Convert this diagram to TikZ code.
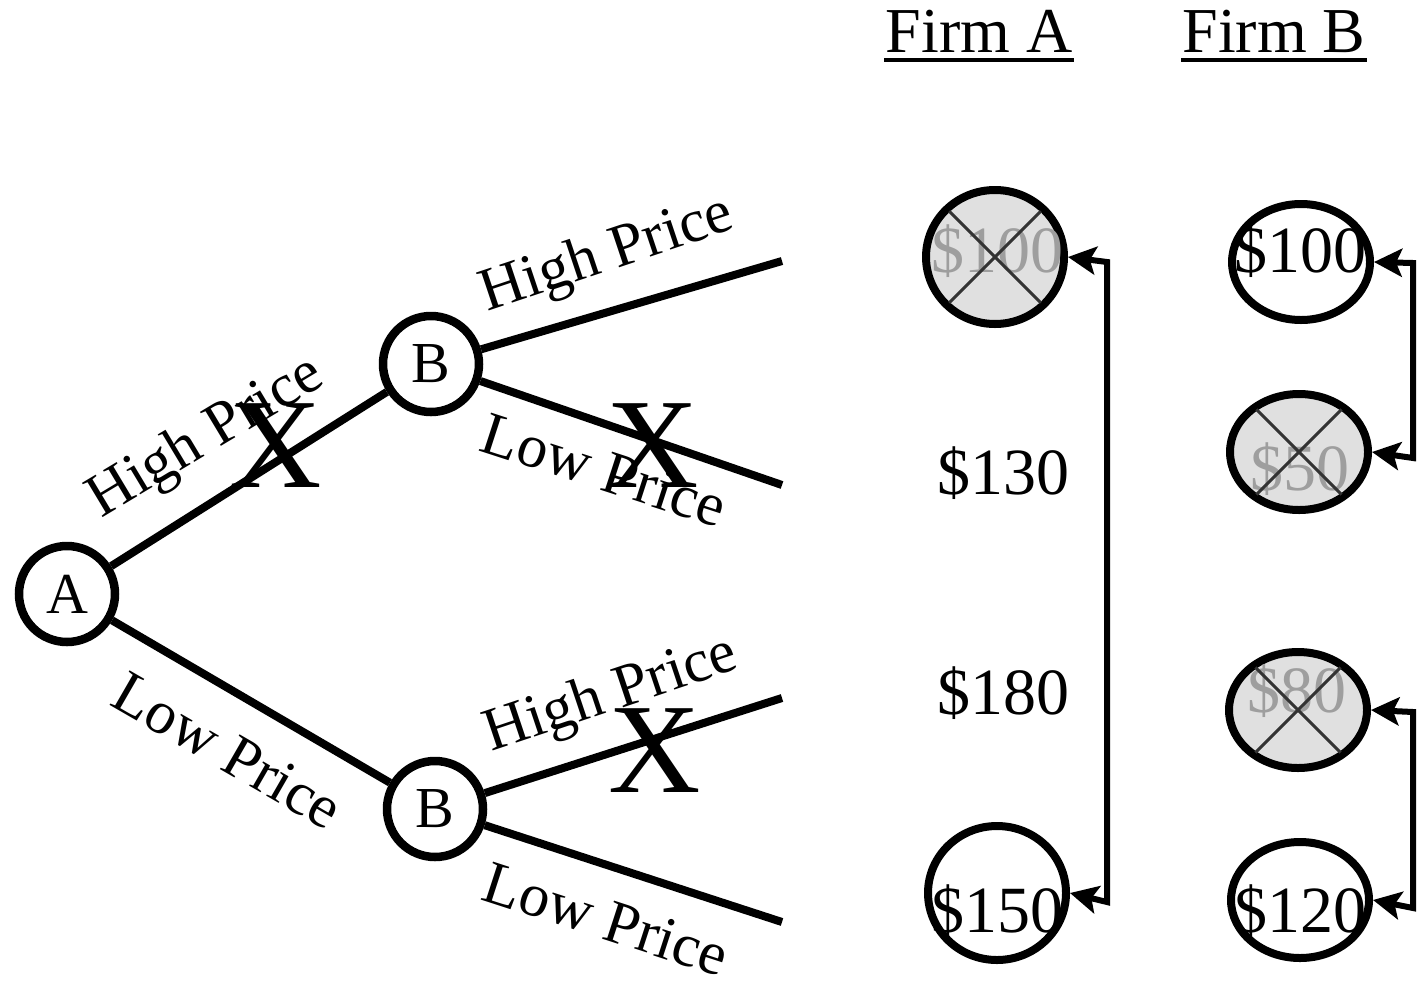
\documentclass[tikz,border=0pt]{standalone}
\usepackage{fontspec}
\setmainfont{Liberation Serif}
\usetikzlibrary{shapes.geometric,arrows.meta,calc}
\begin{document}
\begin{tikzpicture}[x=1pt,y=-1pt,
  decision/.style={circle,draw,line width=8.5pt,minimum size=96pt,inner sep=0pt,font=\fontsize{58}{60}\selectfont},
  branch/.style={line width=8pt},
  lbl/.style={font=\fontsize{61}{63}\selectfont,inner sep=0pt,anchor=base},
  bigx/.style={font=\fontsize{128}{130}\selectfont,inner sep=0pt},
  payA/.style={ellipse,draw,line width=8pt,inner sep=0pt,minimum width=138pt,minimum height=134pt},
  payB/.style={ellipse,draw,line width=8pt,inner sep=0pt,minimum width=138pt,minimum height=116pt},
  struck/.style={fill=black!12},
  val/.style={font=\fontsize{66}{68}\selectfont,inner sep=0pt,anchor=base},
  gval/.style={val,text=black!38},
  xline/.style={line width=3pt,draw=black!80},
  arr/.style={line width=6pt,{Stealth[length=28pt,width=28pt,inset=6pt]}-{Stealth[length=28pt,width=28pt,inset=6pt]}},
  head/.style={font=\fontsize{64}{66}\selectfont,inner sep=0pt,anchor=base}
]
\useasboundingbox (0,0) rectangle (1418,983);

% headers
\node[head] (hA) at (979,52) {Firm A};
\node[head] (hB) at (1274,52) {Firm B};
\draw[line width=4pt] ([yshift=-8pt,xshift=-1pt]hA.base west) -- ([yshift=-8pt,xshift=1pt]hA.base east);
\draw[line width=4pt] ([yshift=-8pt,xshift=-1pt]hB.base west) -- ([yshift=-8pt,xshift=1pt]hB.base east);

% tree
\node[decision] (A) at (67,594) {A};
\node[decision] (B1) at (431,364) {B};
\node[decision] (B2) at (435,809) {B};
\coordinate (e1) at (782,261);
\coordinate (e2) at (782,485);
\coordinate (e3) at (782,698);
\coordinate (e4) at (782,922);
\draw[branch] (A) -- (B1);
\draw[branch] (A) -- (B2);
\draw[branch] (B1) -- (e1);
\draw[branch] (B1) -- (e2);
\draw[branch] (B2) -- (e3);
\draw[branch] (B2) -- (e4);

% branch labels
\node[lbl,rotate=31] (l1) at (214,451) {High Price};
\node[lbl,rotate=-30] (l2) at (218,768) {Low Price};
\node[lbl,rotate=18.5] (l3) at (612,270) {High Price};
\node[lbl,rotate=-18] (l4) at (598,489) {Low Price};
\node[lbl,rotate=18.5] (l5) at (616,710) {High Price};
\node[lbl,rotate=-18] (l6) at (600,938) {Low Price};

% crosses
\node[bigx] (x1) at (276,446) {X};
\node[bigx] (x2) at (653,446) {X};
\node[bigx] (x3) at (655,751) {X};

% Firm A payoffs
\node[payA,struck] (a1) at (995,257) {};
\node[gval] (ta1) at (997,272) {\$100};
\draw[xline] ($(a1.center)!0.9!(a1.135)$) -- ($(a1.center)!0.9!(a1.-45)$);
\draw[xline] ($(a1.center)!0.9!(a1.45)$) -- ($(a1.center)!0.9!(a1.-135)$);
\node[val] (ta2) at (1003,494) {\$130};
\node[val] (ta3) at (1003,714) {\$180};
\node[payA] (a4) at (997,893) {};
\node[val] (ta4) at (997,932) {\$150};
\coordinate (ca1) at (1107,262);
\coordinate (ca2) at (1107,902);
\draw[arr] (a1.east) -- (ca1) -- (ca2) -- (a4.east);

% Firm B payoffs
\node[payB] (b1) at (1301,262) {};
\node[val] (tb1) at (1300,272) {\$100};
\node[payB,struck] (b2) at (1299,452) {};
\node[gval] (tb2) at (1300,490) {\$50};
\draw[xline] ($(b2.center)!0.9!(b2.135)$) -- ($(b2.center)!0.9!(b2.-45)$);
\draw[xline] ($(b2.center)!0.9!(b2.45)$) -- ($(b2.center)!0.9!(b2.-135)$);
\node[payB,struck] (b3) at (1298,710) {};
\node[gval] (tb3) at (1297,712) {\$80};
\draw[xline] ($(b3.center)!0.9!(b3.135)$) -- ($(b3.center)!0.9!(b3.-45)$);
\draw[xline] ($(b3.center)!0.9!(b3.45)$) -- ($(b3.center)!0.9!(b3.-135)$);
\node[payB] (b4) at (1300,900) {};
\node[val] (tb4) at (1300,932) {\$120};
\coordinate (cb1) at (1413,263);
\coordinate (cb2) at (1413,458);
\coordinate (cb3) at (1413,712);
\coordinate (cb4) at (1413,908);
\draw[arr] (b1.east) -- (cb1) -- (cb2) -- (b2.east);
\draw[arr] (b3.east) -- (cb3) -- (cb4) -- (b4.east);
\end{tikzpicture}
\end{document}
